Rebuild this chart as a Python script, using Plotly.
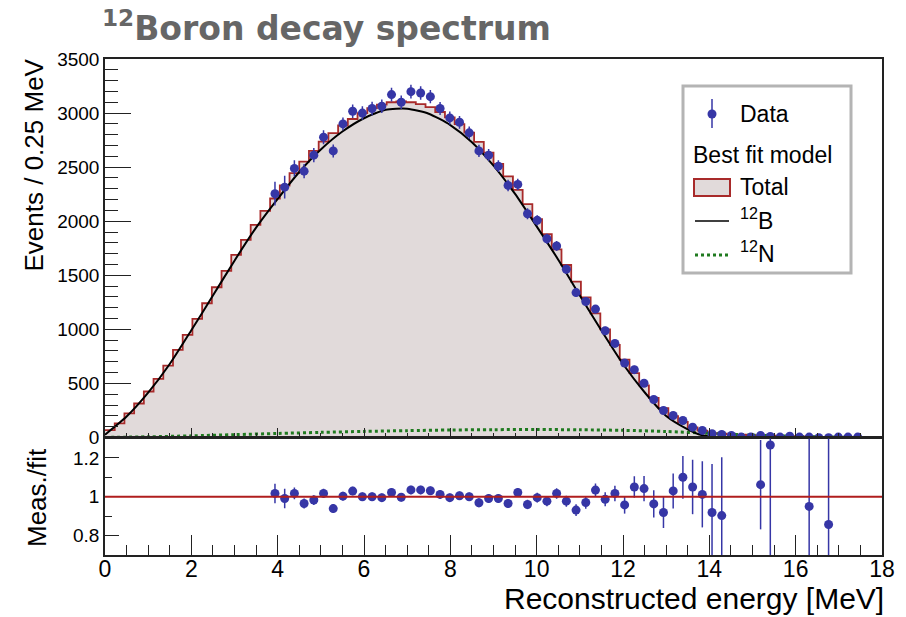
import plotly.graph_objects as go

# ---------------- data ----------------
BIN_LOW = 0.0
BIN_HIGH = 18.0
N_BINS = 80
DATA_FIRST_BIN = 17

# Best-fit total model, one value per bin (80 bins, 0-18 MeV)
total_model = [
    67, 130, 222, 314, 425, 542, 665, 809, 948, 1096,
    1241, 1389, 1540, 1688, 1827, 1966, 2096, 2210, 2330, 2445,
    2550, 2650, 2735, 2815, 2885, 2945, 3000, 3045, 3078, 3100,
    3108, 3100, 3082, 3055, 3010, 2960, 2898, 2820, 2733, 2635,
    2530, 2415, 2290, 2157, 2018, 1880, 1740, 1595, 1442, 1295,
    1148, 1000, 857, 719, 595, 481, 366, 271, 197, 143,
    92, 64, 40, 34, 29, 26, 22, 19, 16, 13,
    11, 9, 7, 6, 4, 3, 2, 1, 0, 0,
]

# Measured data (bins 17..77)
data_counts = [
    2254, 2315, 2488, 2463, 2611, 2777, 2650, 2900, 3017, 3000,
    3042, 3063, 3171, 3100, 3198, 3186, 3152, 3042, 2955, 2915,
    2817, 2650, 2611, 2509, 2331, 2340, 2069, 2008, 1838, 1771,
    1556, 1340, 1257, 1187, 987, 870, 689, 627, 501, 351,
    249, 203, 157, 95, 65, 34, 28, 18, 3, 5,
    18, 9, 3, 12, 3, 3, -3, -3, 3, 3,
    3,
]
data_errors = [
    110, 105, 75, 65, 65, 65, 60, 60, 62, 62,
    62, 62, 63, 62, 63, 63, 62, 60, 60, 59,
    58, 57, 56, 55, 53, 52, 50, 48, 47, 45,
    43, 42, 40, 39, 36, 34, 32, 35, 31, 26,
    22, 19, 17, 14, 12, 10, 9, 9, 8, 8,
    8, 8, 8, 8, 8, 8, 8, 8, 8, 8,
    8,
]

# Measured / fit ratio (None = outside the shown range)
ratio_values = [
    1.017, 0.991, 1.017, 0.965, 0.983, 1.017, 0.939, 1.003, 1.029, 1.000,
    1.000, 0.995, 1.022, 0.997, 1.035, 1.035, 1.031, 1.012, 0.995, 1.005,
    1.000, 0.969, 0.991, 0.991, 0.965, 1.022, 0.960, 0.995, 0.977, 1.017,
    0.977, 0.931, 0.970, 1.034, 0.987, 1.017, 0.958, 1.050, 1.042, 0.963,
    0.919, 1.030, 1.100, 1.050, 1.012, 0.919, 0.903, None, None, None,
    1.062, 1.266, None, None, None, 0.950, None, 0.857, None, None,
    None,
]
ratio_errors = [
    0.050, 0.050, 0.030, 0.026, 0.025, 0.024, 0.023, 0.022, 0.022, 0.022,
    0.022, 0.022, 0.022, 0.022, 0.022, 0.022, 0.022, 0.022, 0.022, 0.022,
    0.022, 0.023, 0.023, 0.023, 0.023, 0.023, 0.024, 0.025, 0.026, 0.027,
    0.028, 0.030, 0.032, 0.034, 0.036, 0.040, 0.045, 0.055, 0.065, 0.070,
    0.080, 0.090, 0.110, 0.140, 0.170, 0.250, 0.300, 0, 0, 0,
    0.230, 0.600, 0, 0, 0, 0.600, 0, 0.600, 0, 0,
    0,
]

# 12B component (smooth curve)
b12_energy = [0, 0.5, 1, 1.5, 2, 2.5, 3, 3.5, 4, 4.5, 5, 5.5, 6, 6.5, 7, 7.5,
              8, 8.5, 9, 9.5, 10, 10.5, 11, 11.5, 12, 12.5, 13, 13.5, 13.75,
              14, 14.25, 14.5, 18]
b12_curve = [25, 193, 414, 679, 991, 1312, 1635, 1940, 2206, 2455, 2663, 2829,
             2952, 3031, 3040, 2994, 2889, 2730, 2513, 2252, 1952, 1644, 1313,
             989, 679, 418, 199, 75, 30, 8, 0, 0, 0]

# 12N component (smooth curve)
n12_energy = [0, 1, 2, 3, 4, 5, 6, 7, 8, 9, 10, 11, 12, 13, 14, 15, 16, 17,
              17.5, 18]
n12_curve = [0, 6, 15, 26, 37, 47, 56, 63, 69, 72, 73, 71, 66, 55, 38, 22,
             10, 3, 0, 0]

# ---------------- derived binning ----------------
bw = (BIN_HIGH - BIN_LOW) / N_BINS
edges = [BIN_LOW + i * bw for i in range(N_BINS + 1)]
centers = [BIN_LOW + (i + 0.5) * bw for i in range(N_BINS)]
data_x = centers[DATA_FIRST_BIN:DATA_FIRST_BIN + len(data_counts)]

# ---------------- geometry ----------------
# The page body keeps its default 8px margin, so the figure is sized to fit
# the 906x617 window after that offset.
OFF = 8
W, H = 906 - OFF, 617 - OFF
ML, MR, MT, MB = 105 - OFF, 24, 59 - OFF, 62
PW, PH = W - ML - MR, H - MT - MB

def px(x):  # window pixel -> paper x
    return (x - OFF - ML) / PW

def py(y):  # window pixel -> paper y
    return (H - MB - (y - OFF)) / PH

BLUE = "#3636a6"
RED = "#a82a2a"
FILL = "#e1dada"
GREEN = "#1f7a1f"
AXC = "#222222"
FONT = "Liberation Sans"

fig = go.Figure()

fig.add_trace(go.Scatter(
    x=edges, y=total_model + [total_model[-1]], mode="lines",
    line=dict(color=RED, width=1.8, shape="hv"),
    fill="tozeroy", fillcolor=FILL, xaxis="x", yaxis="y",
    showlegend=False, hoverinfo="skip"))

fig.add_trace(go.Scatter(
    x=n12_energy, y=n12_curve, mode="lines",
    line=dict(color=GREEN, width=3, dash="dot", shape="spline", smoothing=0.8),
    xaxis="x", yaxis="y", showlegend=False))

fig.add_trace(go.Scatter(
    x=b12_energy, y=b12_curve, mode="lines",
    line=dict(color="black", width=2, shape="spline", smoothing=0.6),
    xaxis="x", yaxis="y", showlegend=False))

fig.add_trace(go.Scatter(
    x=data_x, y=data_counts, mode="markers",
    marker=dict(color=BLUE, size=9),
    error_y=dict(type="data", array=data_errors, color=BLUE, thickness=1.5, width=0),
    xaxis="x", yaxis="y", showlegend=False))

fig.add_trace(go.Scatter(
    x=data_x, y=ratio_values, mode="markers",
    marker=dict(color=BLUE, size=9),
    error_y=dict(type="data", array=ratio_errors, color=BLUE, thickness=1.5, width=0),
    xaxis="x2", yaxis="y2", showlegend=False))

axis_common = dict(showline=True, mirror=True, linecolor=AXC, linewidth=1.5,
                   showgrid=False, zeroline=False, ticks="inside",
                   tickcolor=AXC, tickwidth=1.2, automargin=False)

fig.update_layout(
    width=W, height=H,
    margin=dict(l=ML, r=MR, t=MT, b=MB, pad=0, autoexpand=False),
    paper_bgcolor="white", plot_bgcolor="white",
    showlegend=False,
    font=dict(family=FONT, color="black"),
    title=dict(text="<sup>12</sup>Boron decay spectrum",
               x=(102 - OFF) / W, xanchor="left", xref="container",
               y=1 - (28 - OFF) / H, yanchor="middle", yref="container",
               font=dict(family="DejaVu Sans", size=33, color="#666666",
                         weight="bold")),
    xaxis=dict(axis_common, domain=[0, 1], anchor="y", range=[0, 18],
               dtick=2, tick0=0, ticklen=10, showticklabels=False,
               minor=dict(dtick=0.5, tick0=0, ticklen=5, ticks="inside",
                          tickcolor=AXC)),
    yaxis=dict(axis_common, domain=[0.237, 1], anchor="x", range=[0, 3500],
               dtick=500, tick0=0, ticklen=26,
               tickfont=dict(size=19, family=FONT),
               minor=dict(dtick=100, tick0=0, ticklen=13, ticks="inside",
                          tickcolor=AXC)),
    xaxis2=dict(axis_common, domain=[0, 1], anchor="y2", range=[0, 18],
                dtick=2, tick0=0, ticklen=20, ticklabelstandoff=-7,
                tickfont=dict(size=23, family=FONT),
                minor=dict(dtick=0.5, tick0=0, ticklen=10, ticks="inside",
                           tickcolor=AXC)),
    yaxis2=dict(axis_common, domain=[0, 0.235], anchor="x2", range=[0.7, 1.3],
                tickmode="array", tickvals=[0.8, 1.0, 1.2],
                ticktext=["0.8", "1", "1.2"], ticklen=14,
                tickfont=dict(size=19, family=FONT),
                minor=dict(tickmode="array", tickvals=[0.7, 0.9, 1.1],
                           ticklen=7, ticks="inside", tickcolor=AXC)),
)

shapes = []
# reference line at ratio = 1
shapes.append(dict(type="line", xref="x2", yref="y2", x0=0, x1=18, y0=1, y1=1,
                   line=dict(color="#b01e1e", width=2), layer="above"))

# legend box
shapes.append(dict(type="rect", xref="paper", yref="paper",
                   x0=px(683), x1=px(851), y0=py(273), y1=py(86),
                   line=dict(color="#b4b4b4", width=3), fillcolor="white",
                   layer="above"))
# Data symbol
shapes.append(dict(type="line", xref="paper", yref="paper",
                   x0=px(712), x1=px(712), y0=py(128), y1=py(99),
                   line=dict(color=BLUE, width=1.5), layer="above"))
shapes.append(dict(type="circle", xref="paper", yref="paper",
                   xsizemode="pixel", ysizemode="pixel",
                   xanchor=px(712), yanchor=py(114),
                   x0=-4.5, x1=4.5, y0=-4.5, y1=4.5,
                   fillcolor=BLUE, line=dict(color=BLUE, width=0),
                   layer="above"))
# Total symbol
shapes.append(dict(type="rect", xref="paper", yref="paper",
                   x0=px(694), x1=px(730), y0=py(196), y1=py(179),
                   fillcolor=FILL, line=dict(color=RED, width=2),
                   layer="above"))
# 12B symbol
shapes.append(dict(type="line", xref="paper", yref="paper",
                   x0=px(695), x1=px(729), y0=py(221), y1=py(221),
                   line=dict(color="black", width=1.5), layer="above"))
# 12N symbol
shapes.append(dict(type="line", xref="paper", yref="paper",
                   x0=px(695), x1=px(729), y0=py(255), y1=py(255),
                   line=dict(color=GREEN, width=3, dash="dot"), layer="above"))
fig.update_layout(shapes=shapes)

LEG = dict(family=FONT, size=23, color="black")
annotations = [
    dict(text="Data", x=px(738), y=py(114), xanchor="left", yanchor="middle",
         font=LEG),
    dict(text="Best fit model", x=px(691), y=py(155), xanchor="left",
         yanchor="middle", font=LEG),
    dict(text="Total", x=px(738), y=py(187), xanchor="left", yanchor="middle",
         font=LEG),
    dict(text="<sup>12</sup>B", x=px(738), y=py(219), xanchor="left",
         yanchor="middle", font=LEG),
    dict(text="<sup>12</sup>N", x=px(738), y=py(252), xanchor="left",
         yanchor="middle", font=LEG),
    # axis titles
    dict(text="Events / 0.25 MeV", x=px(34), y=py(57), xanchor="center",
         yanchor="top", textangle=-90, font=dict(family=FONT, size=26)),
    dict(text="Meas./fit", x=px(37), y=py(498), xanchor="center",
         yanchor="middle", textangle=-90, font=dict(family=FONT, size=26)),
    dict(text="Reconstructed energy [MeV]", x=px(886), y=py(598),
         xanchor="right", yanchor="middle", font=dict(family=FONT, size=30)),
]
for a in annotations:
    a.update(xref="paper", yref="paper", showarrow=False)
fig.update_layout(annotations=annotations)

fig.write_html("out.html")
